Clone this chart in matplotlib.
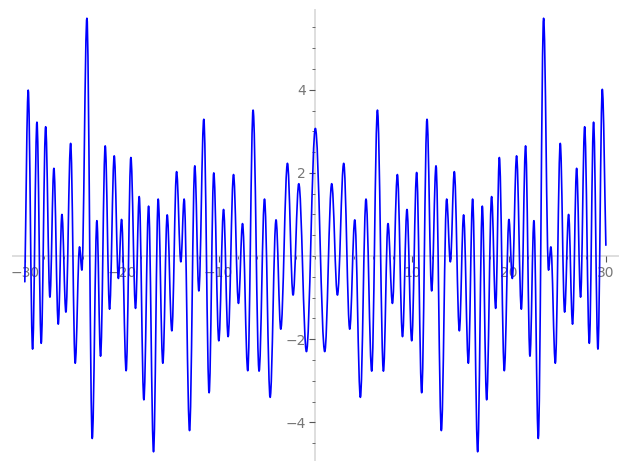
import matplotlib
matplotlib.use("Agg")
import matplotlib.pyplot as plt
from matplotlib.path import Path
from matplotlib.patches import PathPatch
from matplotlib.ticker import MultipleLocator, FixedLocator

# Local extrema (left half incl. centre, then right half)
x_left = [-30.0, -29.65, -29.20, -28.75, -28.31, -27.85, -27.41, -27.00, -26.55, -26.17,
          -25.76, -25.27, -24.80, -24.35, -24.11, -23.59, -23.04, -22.56, -22.18, -21.70,
          -21.25, -20.77, -20.34, -20.01, -19.54, -19.05, -18.57, -18.19, -17.71, -17.22,
          -16.71, -16.23, -15.75, -15.30, -14.82, -14.33, -13.89, -13.55, -12.99, -12.45,
          -12.03, -11.52, -10.97, -10.49, -9.97, -9.48, -9.01, -8.45, -7.94, -7.52,
          -6.98, -6.43, -5.81, -5.25, -4.67, -4.06, -3.57, -2.88, -2.30, -1.71,
          -0.92, 0.0]
y_left = [-0.62, 3.99, -2.24, 3.22, -2.10, 3.11, -0.99, 2.11, -1.64, 1.00,
          -1.35, 2.71, -2.58, 0.22, -0.34, 5.72, -4.39, 0.85, -2.41, 2.65,
          -1.28, 2.41, -0.54, 0.88, -2.76, 2.37, -1.26, 1.43, -3.46, 1.20,
          -4.71, 1.37, -2.58, 0.99, -1.80, 2.03, -0.14, 1.37, -4.20, 2.17,
          -0.84, 3.29, -3.29, 2.00, -2.04, 1.12, -1.94, 1.96, -1.14, 0.78,
          -2.76, 3.51, -2.77, 1.37, -3.40, 0.87, -1.76, 2.23, -0.94, 1.74,
          -2.30, 3.07]
x_right = [0.97, 1.69, 2.28, 2.93, 3.55, 4.07, 4.65, 5.23, 5.82, 6.41,
           7.03, 7.50, 7.96, 8.47, 9.00, 9.46, 9.95, 10.46, 10.98, 11.53,
           12.01, 12.46, 13.01, 13.56, 13.94, 14.35, 14.87, 15.31, 15.80, 16.24,
           16.76, 17.24, 17.69, 18.20, 18.62, 19.00, 19.51, 19.99, 20.34, 20.78,
           21.27, 21.71, 22.16, 22.57, 23.02, 23.57, 24.08, 24.32, 24.78, 25.29,
           25.74, 26.15, 26.56, 26.98, 27.39, 27.81, 28.29, 28.73, 29.18, 29.63,
           30.0]
y_right = [-2.30, 1.74, -0.94, 2.23, -1.76, 0.87, -3.40, 1.37, -2.77, 3.51,
           -2.77, 0.78, -1.14, 1.96, -1.94, 1.12, -2.04, 2.01, -3.29, 3.29,
           -0.84, 2.17, -4.20, 1.37, -0.14, 2.03, -1.80, 0.99, -2.58, 1.37,
           -4.71, 1.20, -3.46, 1.43, -1.26, 2.37, -2.76, 0.88, -0.54, 2.41,
           -1.28, 2.65, -2.41, 0.85, -4.39, 5.72, -0.34, 0.22, -2.58, 2.71,
           -1.35, 1.00, -1.64, 2.11, -0.99, 3.11, -2.10, 3.22, -2.24, 4.01,
           0.26]

x_major = [-30, -20, -10, 10, 20, 30]
y_major = [-4, -2, 2, 4]

xs = x_left + x_right
ys = y_left + y_right

fig = plt.figure(figsize=(6.27, 4.70), dpi=100)
ax = fig.add_axes([0.0203, 0.0213, 0.9653, 0.9574])

# smooth curve through the extrema (horizontal tangents at extrema)
k = 0.3642
verts = [(xs[0], ys[0])]
codes = [Path.MOVETO]
n = len(xs)
for i in range(n - 1):
    x0, y0, x1, y1 = xs[i], ys[i], xs[i + 1], ys[i + 1]
    dx, dy = x1 - x0, y1 - y0
    if i == 0:
        c1 = (x0 + dx / 3, y0 + dy / 3)
    else:
        c1 = (x0 + k * dx, y0)
    if i == n - 2:
        c2 = (x1 - dx / 3, y1 - dy / 3)
    else:
        c2 = (x1 - k * dx, y1)
    verts += [c1, c2, (x1, y1)]
    codes += [Path.CURVE4, Path.CURVE4, Path.CURVE4]
ax.add_patch(PathPatch(Path(verts, codes), facecolor="none", edgecolor=(0, 0, 1),
                       lw=1.2, capstyle="round", joinstyle="round", zorder=3))

ax.set_xlim(-31.25, 31.25)
ax.set_ylim(-4.907, 5.918)

for side in ("top", "right"):
    ax.spines[side].set_visible(False)
ax.spines["left"].set_position(("data", 0))
ax.spines["bottom"].set_position(("data", 0))
for side in ("left", "bottom"):
    ax.spines[side].set_color("#dedede")
    ax.spines[side].set_linewidth(1.4)
    ax.spines[side].set_zorder(0)

ax.xaxis.set_major_locator(FixedLocator(x_major))
ax.yaxis.set_major_locator(FixedLocator(y_major))
ax.xaxis.set_minor_locator(MultipleLocator(2))
ax.yaxis.set_minor_locator(MultipleLocator(0.5))
ax.tick_params(which="major", direction="out", length=4, width=0.8, color="#555555",
               labelsize=10, labelcolor="#777777", pad=3)
ax.tick_params(which="minor", direction="out", length=2.5, width=0.6, color="#555555")
ax.patch.set_alpha(0)

fig.savefig("out.png", dpi=100)
